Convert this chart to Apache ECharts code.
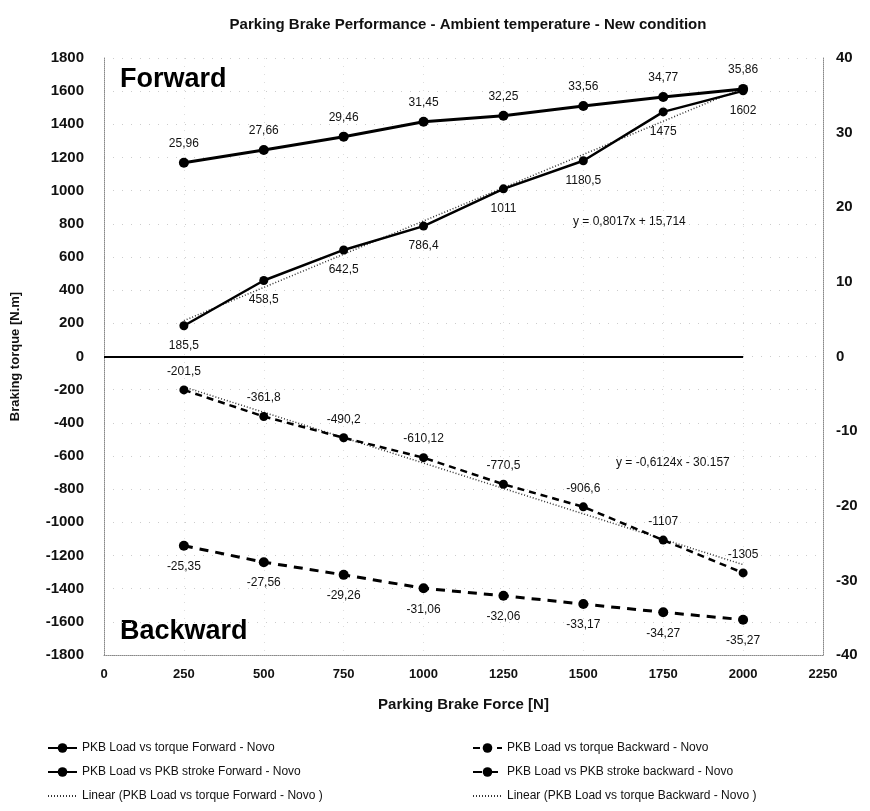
<!DOCTYPE html>
<html>
<head>
<meta charset="utf-8">
<script src="https://cdn.jsdelivr.net/npm/echarts@6/dist/echarts.min.js"></script>
<style>
  html, body { margin: 0; padding: 0; background: #fff; }
  #chart { width: 870px; height: 811px; }
</style>
</head>
<body>
<div id="chart"></div>
<script>
// force values [N]
var force = [250, 500, 750, 1000, 1250, 1500, 1750, 2000];
// braking torque [N.m] (left axis)
var torqueFwd = [185.5, 458.5, 642.5, 786.4, 1011, 1180.5, 1475, 1602];
var torqueBwd = [-201.5, -361.8, -490.2, -610.12, -770.5, -906.6, -1107, -1305];
// PKB stroke (right axis)
var strokeFwd = [25.96, 27.66, 29.46, 31.45, 32.25, 33.56, 34.77, 35.86];
var strokeBwd = [-25.35, -27.56, -29.26, -31.06, -32.06, -33.17, -34.27, -35.27];
// trend lines, end points as drawn
var trendX = [250, 2000];
var trendFwdY = [216.1, 1619.1];
var trendBwdY = [-183.3, -1255.0];

var leftTicks = { min: -1800, max: 1800, interval: 200 };
var rightTicks = { min: -40, max: 40, interval: 10 };
var xTicks = { min: 0, max: 2250, interval: 250 };

var names = [
    'PKB Load vs torque Forward - Novo',
    'PKB Load vs PKB stroke Forward - Novo',
    'Linear (PKB Load vs torque Forward - Novo )',
    'PKB Load vs torque Backward - Novo',
    'PKB Load vs PKB stroke backward - Novo',
    'Linear (PKB Load vs torque Backward - Novo )'
];

function pairs(xs, ys) {
    var out = [];
    for (var i = 0; i < xs.length; i++) {
        out.push([xs[i], ys[i]]);
    }
    return out;
}

function fmt(p) {
    return String(p.value[1]).replace('.', ',');
}
// plain tick numbers, no thousands separator
function plain(v) { return String(v); }

var FONT = '"Liberation Sans", Arial, sans-serif';
var lbl = { show: true, formatter: fmt, color: '#111', fontSize: 12, fontFamily: FONT };
var legendText = { fontSize: 12, color: '#111', fontFamily: FONT };

var myChart = echarts.init(document.getElementById('chart'));

var option = {
    backgroundColor: '#fff',
    animation: false,
    textStyle: { fontFamily: FONT },
    title: {
        text: 'Parking Brake Performance - Ambient temperature - New condition',
        left: 463, top: 12, textAlign: 'center',
        textStyle: { fontSize: 15, fontWeight: 'bold', color: '#111', fontFamily: FONT }
    },
    grid: { left: 104, right: 47, top: 58, bottom: 156 },
    legend: [
        {
            data: [names[0], names[1], { name: names[2], itemStyle: { opacity: 0 } }],
            orient: 'vertical', left: 42, top: 737, itemGap: 12,
            itemWidth: 29, itemHeight: 12,
            textStyle: legendText
        },
        {
            data: [names[3], names[4], { name: names[5], itemStyle: { opacity: 0 } }],
            orient: 'vertical', left: 467, top: 737, itemGap: 12,
            itemWidth: 29, itemHeight: 12,
            textStyle: legendText
        }
    ],
    xAxis: {
        type: 'value', min: xTicks.min, max: xTicks.max, interval: xTicks.interval,
        name: 'Parking Brake Force [N]', nameLocation: 'middle', nameGap: 42,
        nameTextStyle: { fontSize: 15, fontWeight: 'bold', color: '#111' },
        axisLine: { onZero: false, lineStyle: { color: '#888', type: 'dotted' } },
        axisTick: { show: false },
        axisLabel: { fontSize: 13, fontWeight: 'bold', color: '#111', margin: 13, formatter: plain },
        splitLine: { show: true, lineStyle: { color: '#ddd', type: [1, 7] } }
    },
    yAxis: [
        {
            type: 'value', min: leftTicks.min, max: leftTicks.max, interval: leftTicks.interval,
            name: 'Braking torque [N.m]', nameLocation: 'middle', nameGap: 82,
            nameTextStyle: { fontSize: 13, fontWeight: 'bold', color: '#111' },
            axisLine: { show: true, lineStyle: { color: '#888', type: 'dotted' } },
            axisTick: { show: false },
            axisLabel: { fontSize: 15, fontWeight: 'bold', color: '#111', margin: 20, formatter: plain },
            splitLine: { show: true, lineStyle: { color: '#ccc', type: [1, 8] } }
        },
        {
            type: 'value', min: rightTicks.min, max: rightTicks.max, interval: rightTicks.interval,
            position: 'right',
            axisLine: { show: true, lineStyle: { color: '#888', type: 'dotted' } },
            axisTick: { show: false },
            axisLabel: { fontSize: 15, fontWeight: 'bold', color: '#111', margin: 13, formatter: plain },
            splitLine: { show: false }
        }
    ],
    graphic: [
        { type: 'text', left: 120, top: 66, style: { text: 'Forward', font: 'bold 27px ' + FONT, fill: '#000' } },
        { type: 'text', left: 120, top: 618, style: { text: 'Backward', font: 'bold 27px ' + FONT, fill: '#000' } },
        { type: 'text', left: 573, top: 216, style: { text: 'y = 0,8017x + 15,714', font: '12px ' + FONT, fill: '#111' } },
        { type: 'text', left: 616, top: 457, style: { text: 'y = -0,6124x - 30.157', font: '12px ' + FONT, fill: '#111' } }
    ],
    series: [
        {
            name: names[0], type: 'line', yAxisIndex: 0,
            data: pairs(force, torqueFwd),
            symbol: 'circle', symbolSize: 9,
            itemStyle: { color: '#000' },
            lineStyle: { color: '#000', width: 2.5 },
            label: Object.assign({ position: 'bottom', distance: 9 }, lbl),
            markLine: {
                silent: true, symbol: 'none', label: { show: false },
                lineStyle: { color: '#000', width: 2, type: 'solid' },
                data: [[{ coord: [0, 0] }, { coord: [2000, 0] }]]
            },
            z: 5
        },
        {
            name: names[1], type: 'line', yAxisIndex: 1,
            data: pairs(force, strokeFwd),
            symbol: 'circle', symbolSize: 10,
            itemStyle: { color: '#000' },
            lineStyle: { color: '#000', width: 3 },
            label: Object.assign({ position: 'top', distance: 8 }, lbl),
            z: 5
        },
        {
            name: names[2], type: 'line', yAxisIndex: 0,
            data: pairs(trendX, trendFwdY),
            symbol: 'none',
            itemStyle: { color: '#333' },
            lineStyle: { color: '#333', width: 1.5, type: [1, 2] },
            z: 4
        },
        {
            name: names[3], type: 'line', yAxisIndex: 0,
            data: pairs(force, torqueBwd),
            symbol: 'circle', symbolSize: 9,
            itemStyle: { color: '#000' },
            lineStyle: { color: '#000', width: 2.5, type: [7, 5] },
            label: Object.assign({ position: 'top', distance: 8 }, lbl),
            z: 5
        },
        {
            name: names[4], type: 'line', yAxisIndex: 1,
            data: pairs(force, strokeBwd),
            symbol: 'circle', symbolSize: 10,
            itemStyle: { color: '#000' },
            lineStyle: { color: '#000', width: 3, type: [9, 7] },
            label: Object.assign({ position: 'bottom', distance: 10 }, lbl),
            z: 5
        },
        {
            name: names[5], type: 'line', yAxisIndex: 0,
            data: pairs(trendX, trendBwdY),
            symbol: 'none',
            itemStyle: { color: '#333' },
            lineStyle: { color: '#333', width: 1.5, type: [1, 2] },
            z: 4
        }
    ]
};

myChart.setOption(option);
</script>
</body>
</html>
